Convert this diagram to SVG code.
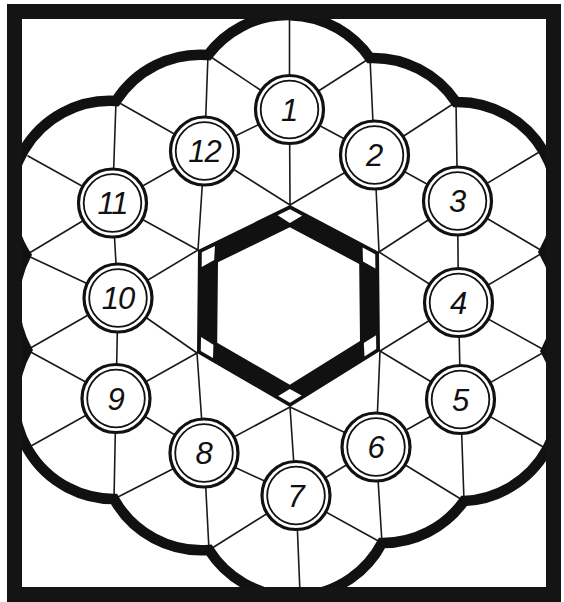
<svg xmlns="http://www.w3.org/2000/svg" width="564" height="602" viewBox="0 0 564 602">
<defs>
<style>
.thin{stroke:#1a1a1a;stroke-width:1.6;fill:none;stroke-linecap:round}
.lobe{stroke:#111;stroke-width:10.5;fill:none;stroke-linejoin:miter;stroke-miterlimit:2.5}
.ro{fill:#fff;stroke:#111;stroke-width:3.2}
.ri{fill:none;stroke:#111;stroke-width:1.8}
.num{font-family:"Liberation Sans","DejaVu Sans",sans-serif;font-style:italic;font-size:31px;text-anchor:middle;fill:#111}
.gap{fill:#fff}
</style>
<clipPath id="clipIn"><rect x="8" y="5" width="552" height="596"/></clipPath>
</defs>
<rect width="564" height="602" fill="#fff"/>

<g id="connectors" class="thin">
<path d="M289.5,109.5 L374.5,155 L457.5,201 L458.5,302.5 L460.5,399.5 L376,447 L296,495.5 L204,453 L116,398.5 L118,298 L112.5,203 L204.5,151 Z"/>
<path d="M289.5,109.5 L208,55 M289.5,109.5 L370,58
M374.5,155 L370,58 M374.5,155 L456,102
M457.5,201 L456,102 M457.5,201 L544,252
M458.5,302.5 L544,252 M458.5,302.5 L546,351
M460.5,399.5 L546,351 M460.5,399.5 L464,501
M376,447 L464,501 M376,447 L382,543
M296,495.5 L382,543 M296,495.5 L209,550
M204,453 L209,550 M204,453 L114,499
M116,398.5 L114,499 M116,398.5 L27,350
M118,298 L27,350 M118,298 L26,255
M112.5,203 L26,255 M112.5,203 L116,101
M204.5,151 L116,101 M204.5,151 L208,55"/>
<path d="M289.5,109.5 L289.5,10 M457.5,201 L541,151 M460.5,399.5 L545,448 M296,495.5 L300,593 M116,398.5 L31,446 M112.5,203 L28,156"/>
<path d="M289.5,109.5 L290,205 M374.5,155 L290,205 M374.5,155 L379,252
M457.5,201 L379,252 M458.5,302.5 L379,252 M458.5,302.5 L380,351
M460.5,399.5 L380,351 M376,447 L380,351 M376,447 L290,407
M296,495.5 L290,407 M204,453 L290,407 M204,453 L197,353
M116,398.5 L197,353 M118,298 L197,353 M118,298 L198,250
M112.5,203 L198,250 M204.5,151 L198,250 M204.5,151 L290,205"/>
</g>

<g id="hexagon">
<path fill="#111" fill-rule="evenodd" d="M290,205 L379,252 L380,351 L290,407 L197,353 L198,250 Z M289.8,227.2 L218,262.3 L217.2,342.7 L289.8,384.8 L360,341.1 L359.2,263.9 Z"/>
<polygon class="gap" points="290,209.2 302.1,215.7 289.8,223 277.6,215.3"/>
<polygon class="gap" points="375.2,254.3 375.4,268.6 363,261.6 362.6,247.6"/>
<polygon class="gap" points="376.2,349.1 364.5,356.4 363.8,343 376.1,335.3"/>
<polygon class="gap" points="290,402.8 278.2,395.9 289.8,389 301.6,395.5"/>
<polygon class="gap" points="200.8,351 201,337 213.4,344.7 213,358.1"/>
<polygon class="gap" points="201.8,252.3 214.9,246 214.2,260 201.7,266.9"/>
</g>

<g id="outline" clip-path="url(#clipIn)">
<path class="lobe" d="M208,55 A100,100 0 0 1 370,58 A100,100 0 0 1 456,102 A100,100 0 0 1 544,252 A100,100 0 0 1 546,351 A100,100 0 0 1 464,501 A100,100 0 0 1 382,543 A100,100 0 0 1 209,550 A100,100 0 0 1 114,499 A100,100 0 0 1 27,350 A100,100 0 0 1 26,255 A100,100 0 0 1 116,101 A100,100 0 0 1 208,55 Z"/>
</g>

<g id="n1"><circle class="ro" cx="289.5" cy="109.5" r="34"/><circle class="ri" cx="289.5" cy="109.5" r="28.8"/><text class="num" x="289.5" y="120.5">1</text></g>
<g id="n2"><circle class="ro" cx="374.5" cy="155" r="34"/><circle class="ri" cx="374.5" cy="155" r="28.8"/><text class="num" x="374.5" y="166">2</text></g>
<g id="n3"><circle class="ro" cx="457.5" cy="201" r="34"/><circle class="ri" cx="457.5" cy="201" r="28.8"/><text class="num" x="457.5" y="212">3</text></g>
<g id="n4"><circle class="ro" cx="458.5" cy="302.5" r="34"/><circle class="ri" cx="458.5" cy="302.5" r="28.8"/><text class="num" x="458.5" y="313.5">4</text></g>
<g id="n5"><circle class="ro" cx="460.5" cy="399.5" r="34"/><circle class="ri" cx="460.5" cy="399.5" r="28.8"/><text class="num" x="460.5" y="410.5">5</text></g>
<g id="n6"><circle class="ro" cx="376" cy="447" r="34"/><circle class="ri" cx="376" cy="447" r="28.8"/><text class="num" x="376" y="458">6</text></g>
<g id="n7"><circle class="ro" cx="296" cy="495.5" r="34"/><circle class="ri" cx="296" cy="495.5" r="28.8"/><text class="num" x="296" y="506.5">7</text></g>
<g id="n8"><circle class="ro" cx="204" cy="453" r="34"/><circle class="ri" cx="204" cy="453" r="28.8"/><text class="num" x="204" y="464">8</text></g>
<g id="n9"><circle class="ro" cx="116" cy="398.5" r="34"/><circle class="ri" cx="116" cy="398.5" r="28.8"/><text class="num" x="116" y="409.5">9</text></g>
<g id="n10"><circle class="ro" cx="118" cy="298" r="34"/><circle class="ri" cx="118" cy="298" r="28.8"/><text class="num" x="118" y="309" letter-spacing="-1">10</text></g>
<g id="n11"><circle class="ro" cx="112.5" cy="203" r="34"/><circle class="ri" cx="112.5" cy="203" r="28.8"/><text class="num" x="112.5" y="214" letter-spacing="-1">11</text></g>
<g id="n12"><circle class="ro" cx="204.5" cy="151" r="34"/><circle class="ri" cx="204.5" cy="151" r="28.8"/><text class="num" x="204.5" y="162" letter-spacing="-1">12</text></g>

<g id="frame">
<rect x="14.5" y="11.5" width="539" height="583" fill="none" stroke="#141414" stroke-width="15"/>
</g>
</svg>
